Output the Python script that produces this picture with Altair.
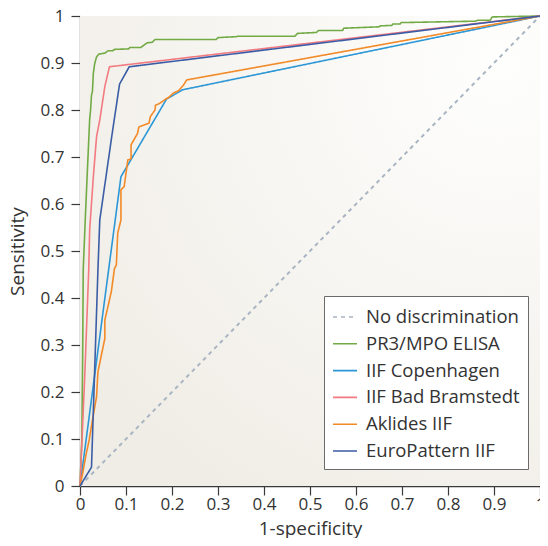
import altair as alt
import pandas as pd

# ---------------- data ----------------
series_names = ["No discrimination", "PR3/MPO ELISA", "IIF Copenhagen",
                "IIF Bad Bramstedt", "Aklides IIF", "EuroPattern IIF"]
series_colors = ["#a9b5c2", "#72ab45", "#2d97d6", "#f27a80", "#f28a28", "#3b5da6"]

diag_x = [0.0, 1.0]
diag_y = [0.0, 1.0]

elisa_x = [0, 0.004, 0.006, 0.007, 0.012, 0.016, 0.021, 0.023, 0.025, 0.027, 0.029,
           0.032, 0.036, 0.041, 0.054, 0.061, 0.071, 0.075, 0.106, 0.108, 0.132,
           0.146, 0.157, 0.163, 0.296, 0.300, 0.339, 0.343, 0.467, 0.473, 0.514,
           0.518, 0.571, 0.573, 0.650, 0.653, 0.678, 0.680, 0.696, 0.698, 0.860,
           0.864, 0.892, 0.896, 1.0]
elisa_y = [0, 0.10, 0.30, 0.46, 0.58, 0.67, 0.78, 0.80, 0.832, 0.839, 0.878,
           0.899, 0.913, 0.919, 0.921, 0.926, 0.926, 0.929, 0.930, 0.933, 0.933,
           0.943, 0.944, 0.950, 0.950, 0.954, 0.956, 0.957, 0.957, 0.963, 0.965,
           0.969, 0.969, 0.974, 0.977, 0.979, 0.980, 0.983, 0.983, 0.986, 0.989,
           0.991, 0.991, 0.998, 1.0]

cph_x = [0, 0.089, 0.188, 0.223, 1.0]
cph_y = [0, 0.658, 0.823, 0.843, 1.0]

bad_x = [0, 0.010, 0.019, 0.021, 0.029, 0.036, 0.043, 0.054, 0.064, 1.0]
bad_y = [0, 0.226, 0.46, 0.545, 0.658, 0.743, 0.779, 0.850, 0.892, 1.0]

akl_x = [0, 0.006, 0.013, 0.020, 0.027, 0.036, 0.039, 0.054, 0.054, 0.068, 0.075,
         0.079, 0.082, 0.089, 0.089, 0.096, 0.104, 0.107, 0.111, 0.111, 0.125,
         0.128, 0.150, 0.153, 0.163, 0.164, 0.173, 0.186, 0.193, 0.203, 0.214,
         0.225, 0.232, 1.0]
akl_y = [0, 0.028, 0.066, 0.098, 0.140, 0.190, 0.243, 0.314, 0.353, 0.413, 0.463,
         0.470, 0.538, 0.566, 0.630, 0.637, 0.694, 0.694, 0.697, 0.726, 0.750,
         0.764, 0.772, 0.786, 0.800, 0.810, 0.814, 0.823, 0.827, 0.836, 0.841,
         0.853, 0.864, 1.0]

euro_x = [0, 0.025, 0.039, 0.043, 0.071, 0.086, 0.107, 1.0]
euro_y = [0, 0.040, 0.460, 0.566, 0.757, 0.855, 0.892, 1.0]

tick_values = [round(i / 10, 1) for i in range(11)]

# ---------------- build table ----------------
all_x = [diag_x, elisa_x, cph_x, bad_x, akl_x, euro_x]
all_y = [diag_y, elisa_y, cph_y, bad_y, akl_y, euro_y]
rows = []
for name, xs, ys in zip(series_names, all_x, all_y):
    for i, (xv, yv) in enumerate(zip(xs, ys)):
        rows.append({"series": name, "fpr": xv, "tpr": yv, "idx": i})
df = pd.DataFrame(rows)

W, H = 460, 470
FONT = "Open Sans"

bg = alt.Chart(pd.DataFrame({"a": [0]})).mark_rect(
    fill=alt.RadialGradient(
        gradient="radial",
        stops=[alt.GradientStop(offset=0, color="#fefefd"),
               alt.GradientStop(offset=1, color="#f0ede6")],
        x1=0.9, y1=0.1, r1=0, x2=0.9, y2=0.1, r2=1.1),
).encode(x=alt.value(0), x2=alt.value(W), y=alt.value(0), y2=alt.value(H))

leg = alt.Legend(title=None, orient="none", legendX=244, legendY=280)

lines = alt.Chart(df).mark_line(strokeJoin="round").encode(
    x=alt.X("fpr:Q", scale=alt.Scale(domain=[0, 1], nice=False),
            axis=alt.Axis(values=tick_values, format="~g", title="1-specificity",
                          labelPadding=1, titlePadding=7)),
    y=alt.Y("tpr:Q", scale=alt.Scale(domain=[0, 1], nice=False),
            axis=alt.Axis(values=tick_values, format="~g", title="Sensitivity",
                          labelPadding=7, titlePadding=13)),
    color=alt.Color("series:N", sort=series_names,
                    scale=alt.Scale(domain=series_names, range=series_colors),
                    legend=leg),
    strokeDash=alt.StrokeDash("series:N", sort=series_names,
                              scale=alt.Scale(domain=series_names,
                                              range=[[4, 4], [1, 0], [1, 0], [1, 0], [1, 0], [1, 0]]),
                              legend=leg),
    strokeWidth=alt.condition(alt.datum.series == "No discrimination",
                              alt.value(2), alt.value(1.6)),
    order=alt.Order("idx:Q"),
)

chart = alt.layer(bg, lines).properties(
    width=W, height=H,
    autosize=alt.AutoSizeParams(type="none"),
    padding={"left": 72, "top": 8, "right": 0, "bottom": 52},
).configure_view(stroke=None).configure_axis(
    grid=False,
    domainColor="#3a3a3a", domainWidth=1.3,
    tickColor="#3a3a3a", tickSize=9, tickWidth=1.2,
    labelFont=FONT, labelFontSize=17, labelColor="#333333", labelFlush=False,
    titleFont=FONT, titleFontSize=19, titleColor="#333333", titleFontWeight="normal",
).configure_legend(
    padding=8, strokeColor="#6b6b6b", fillColor="white",
    symbolType="stroke", symbolSize=576, symbolStrokeWidth=1.6,
    labelFont=FONT, labelFontSize=18.5, labelColor="#333333",
    labelOffset=8, rowPadding=3.8, cornerRadius=0,
)

chart.save("out.html", embed_options={"renderer": "svg", "actions": False})
